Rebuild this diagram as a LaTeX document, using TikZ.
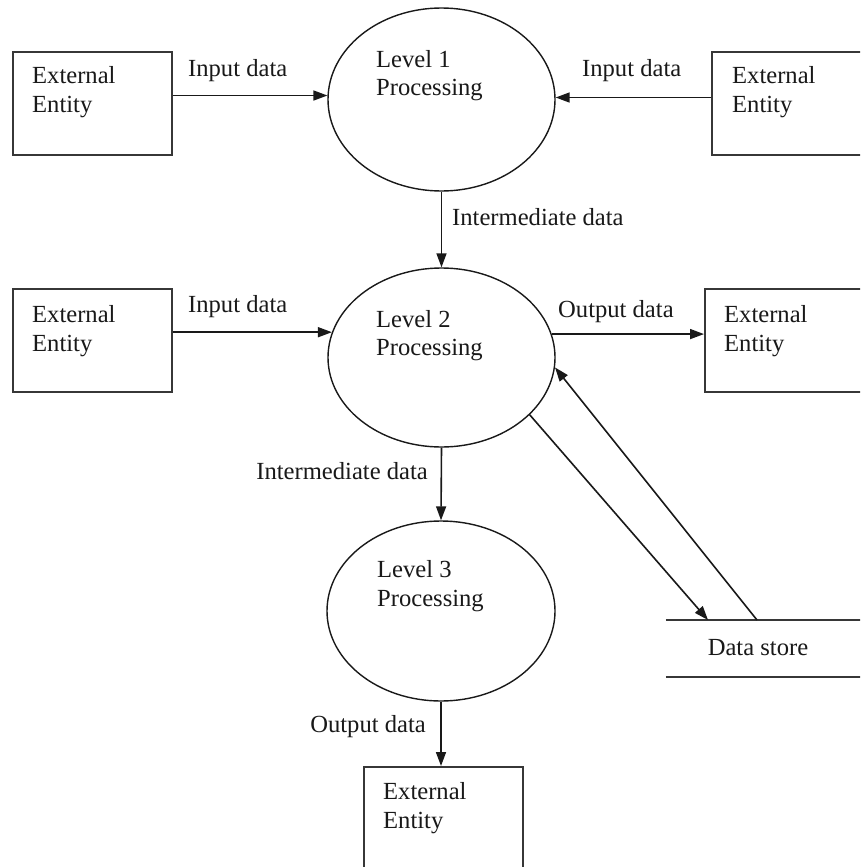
\documentclass[tikz,border=0pt]{standalone}
\usepackage{fontspec}
\setmainfont{Liberation Serif}
\usetikzlibrary{arrows.meta,shapes.geometric}
\definecolor{ink}{RGB}{25,25,25}
\definecolor{boxline}{RGB}{55,55,55}
\begin{document}
\begin{tikzpicture}[x=1pt,y=-1pt,
  txt/.style={inner sep=0pt, anchor=base west, text=ink,
    font=\fontsize{24.6}{29}\selectfont},
  entity/.style={draw=boxline, line width=2pt, inner sep=0pt,
    minimum width=#1, minimum height=103, anchor=north west},
  process/.style={draw=ink, line width=1.4pt, ellipse, inner sep=0pt},
  flow/.style={draw=ink, line width=1.6pt,
    -{Triangle[length=14pt,width=10pt]}},
  store/.style={draw=boxline, line width=2.2pt}]
\clip (0,0) rectangle (860,867);
\fill[white] (0,0) rectangle (860,867);

% processes
\node[process, minimum width=227, minimum height=183] (p1) at (441.5,99.5) {};
\node[process, minimum width=227, minimum height=179] (p2) at (441.5,357.5) {};
\node[process, minimum width=228, minimum height=180] (p3) at (441,611) {};
\node[txt] (p1a) at (376,67) {Level 1};
\node[txt] (p1b) at (376,95) {Processing};
\node[txt] (p2a) at (376,327) {Level 2};
\node[txt] (p2b) at (376,355) {Processing};
\node[txt] (p3a) at (377,577) {Level 3};
\node[txt] (p3b) at (377,606) {Processing};

% external entities
\node[entity=159] (e1) at (12,51) {};
\node[entity=170] (e2) at (711,51) {};
\node[entity=159] (e3) at (12,288) {};
\node[entity=170] (e4) at (704,288) {};
\node[entity=159, minimum height=130] (e5) at (363,766) {};
\foreach \n/\x/\y in {e1/32/83, e2/732/83, e3/32/322, e4/724/322, e5/383/799}{
  \node[txt] (\n a) at (\x,\y) {External};
  \node[txt] (\n b) at (\x,\y+29) {Entity};
}

% data store
\node[inner sep=0pt, minimum width=210, minimum height=57] (ds) at (771,648.5) {};
\draw[store] (ds.north west) -- (ds.north east);
\draw[store] (ds.south west) -- (ds.south east);
\node[txt, anchor=base] (dst) at (758,655) {Data store};
\coordinate (dsin) at (708,620);
\coordinate (dsout) at (757,620);

% flows
\draw[flow] (e1.east |- p1.178.7) -- (p1.178.7);
\node[txt] (l1) at (188,77) {Input data};
\draw[flow] (e2.west |- p1.1.3) -- (p1.1.3);
\node[txt] (l2) at (582,77) {Input data};
\draw[flow] (p1.south) -- (p2.north);
\node[txt] (l3) at (452,225) {Intermediate data};
\draw[flow] (e3.east |- p2.167.4) -- (p2.167.4);
\node[txt] (l4) at (188,312) {Input data};
\draw[flow] (p2.12.6) -- (e4.west |- p2.12.6);
\node[txt] (l5) at (558,317) {Output data};
\draw[flow] (p2.south) -- (p3.north);
\node[txt, anchor=base east] (l6) at (428,479) {Intermediate data};
\draw[flow] (p3.south) -- (e5.north -| p3.south);
\node[txt, anchor=base east] (l7) at (426,732) {Output data};
\draw[flow] (p2.-33) -- (dsin);
\draw[flow] (dsout) -- (p2.-5.3);
\end{tikzpicture}
\end{document}
